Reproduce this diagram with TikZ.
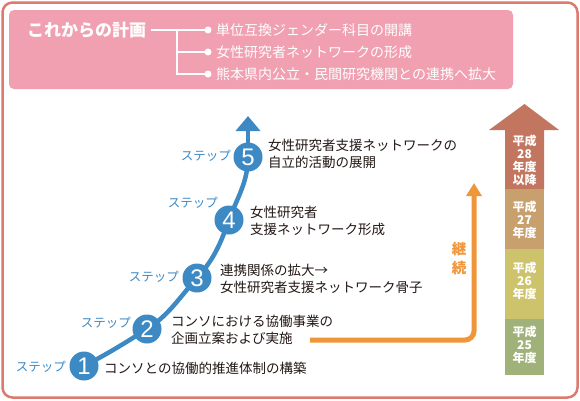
\documentclass[tikz,border=0pt]{standalone}
\usepackage{fontspec}
\setmainfont{Noto Sans CJK JP}
\setsansfont{Noto Sans CJK JP}
\newfontfamily\digitfont{Liberation Sans}
\usetikzlibrary{arrows.meta}
\definecolor{frame}{HTML}{DC7A70}
\definecolor{pinkbg}{HTML}{F0A0B0}
\definecolor{stepblue}{HTML}{3D89C4}
\definecolor{orng}{HTML}{F0963A}
\definecolor{c28}{HTML}{C27660}
\definecolor{c27}{HTML}{C8A06E}
\definecolor{c26}{HTML}{CDC36C}
\definecolor{c25}{HTML}{A0B27A}
\definecolor{txt}{HTML}{231815}
\tikzset{
  numcirc/.style={circle, fill=stepblue, minimum size=29pt, inner sep=0pt, text=white, font=\digitfont\fontsize{24}{24}\selectfont},
  steplabel/.style={anchor=east, inner sep=0pt, text=stepblue, font=\fontsize{12.5}{14}\selectfont},
  desc/.style={anchor=west, inner sep=0pt, align=left, text=txt, font=\fontsize{13.5}{16.5}\selectfont},
  plan/.style={anchor=west, inner sep=0pt, text=white, font=\fontsize{14}{16}\selectfont},
  yeartxt/.style={inner sep=0pt, align=center, text=white, font=\bfseries\fontsize{12}{13}\selectfont},
  wline/.style={draw=white, line width=1.5pt},
}
\begin{document}
\begin{tikzpicture}[x=1pt,y=-1pt]
\useasboundingbox (0,0) rectangle (580,400);
% outer frame
\draw[frame, line width=2.5pt, rounded corners=10pt, fill=white] (2.5,2.5) rectangle (577.5,397.5);
% header
\fill[pinkbg, rounded corners=5pt] (9,10) rectangle (513,89);
\node[anchor=west, inner sep=0pt, text=white, font=\bfseries\fontsize{17}{17}\selectfont] (title) at (27,30) {これからの計画};
\coordinate (br) at (177,30);
\coordinate (b1) at (208,30);
\coordinate (b2) at (208,52);
\coordinate (b3) at (208,74);
\draw[wline] (title.east) ++(5,0) -- (br) -- (b1);
\draw[wline] (br) |- (b2);
\draw[wline] (br) |- (b3);
\foreach \b in {b1,b2,b3} \fill[white] (\b) circle (3.5pt);
\node[plan] (p1) at (216,30) {単位互換ジェンダー科目の開講};
\node[plan] (p2) at (216,52) {女性研究者ネットワークの形成};
\node[plan] (p3) at (216,74) {熊本県内公立・民間研究機関との連携へ拡大};
% orange continuation arrow
\coordinate (o1) at (310,340);
\coordinate (oc) at (474,340);
\coordinate (ot) at (474,183);
\draw[orng, line width=5pt, rounded corners=9pt, -{Triangle[width=15pt,length=13pt]}] (o1) -- (oc) -- (ot);
\node[inner sep=0pt, text=orng, font=\bfseries\fontsize{14.5}{19.5}\selectfont, align=center] (keizoku) at (459,258.5) {継\\続};
% blue step curve
\coordinate (c1) at (84,366);
\coordinate (c2) at (147,329);
\coordinate (c3) at (197,278);
\coordinate (c4) at (229,220);
\coordinate (c5) at (248,157);
\coordinate (tip) at (248,116);
\draw[stepblue, line width=4.5pt] (c1) .. controls +(25,-13) and +(-22,14) .. (c2)
  .. controls +(22,-14) and +(-18,20) .. (c3)
  .. controls +(18,-20) and +(-8,22) .. (c4)
  .. controls +(8,-22) and +(0,25) .. (c5);
\draw[stepblue, line width=4.5pt, -{Triangle[width=24pt,length=15pt]}] (c5) -- (tip);
\node[numcirc] (n1) at (c1) {1};
\node[numcirc] (n2) at (c2) {2};
\node[numcirc] (n3) at (c3) {3};
\node[numcirc] (n4) at (c4) {4};
\node[numcirc] (n5) at (c5) {5};
\node[steplabel] (s1) at (66,367) {ステップ};
\node[steplabel] (s2) at (131,323) {ステップ};
\node[steplabel] (s3) at (179,277) {ステップ};
\node[steplabel] (s4) at (218,203) {ステップ};
\node[steplabel] (s5) at (231,156) {ステップ};
\node[desc] (d1) at (104,368) {コンソとの協働的推進体制の構築};
\node[desc] (d2) at (171,330) {コンソにおける協働事業の\\企画立案および実施};
\node[desc] (d3) at (220,279) {連携関係の拡大→\\女性研究者支援ネットワーク骨子};
\node[desc] (d4) at (250,221) {女性研究者\\支援ネットワーク形成};
\node[desc] (d5) at (268,154) {女性研究者支援ネットワークの\\自立的活動の展開};
% right year column
\fill[c28] (489,130) -- (524.5,104) -- (559,130) -- (544,130) -- (544,189) -- (505,189) -- (505,130) -- cycle;
\fill[c27] (505,189) rectangle (544,249);
\fill[c26] (505,249) rectangle (544,319);
\fill[c25] (505,319) rectangle (544,375);
\node[yeartxt] (y28) at (524.5,160) {平成\\28\\年度\\以降};
\node[yeartxt] (y27) at (524.5,220) {平成\\27\\年度};
\node[yeartxt] (y26) at (524.5,281) {平成\\26\\年度};
\node[yeartxt] (y25) at (524.5,345) {平成\\25\\年度};
\end{tikzpicture}
\end{document}
